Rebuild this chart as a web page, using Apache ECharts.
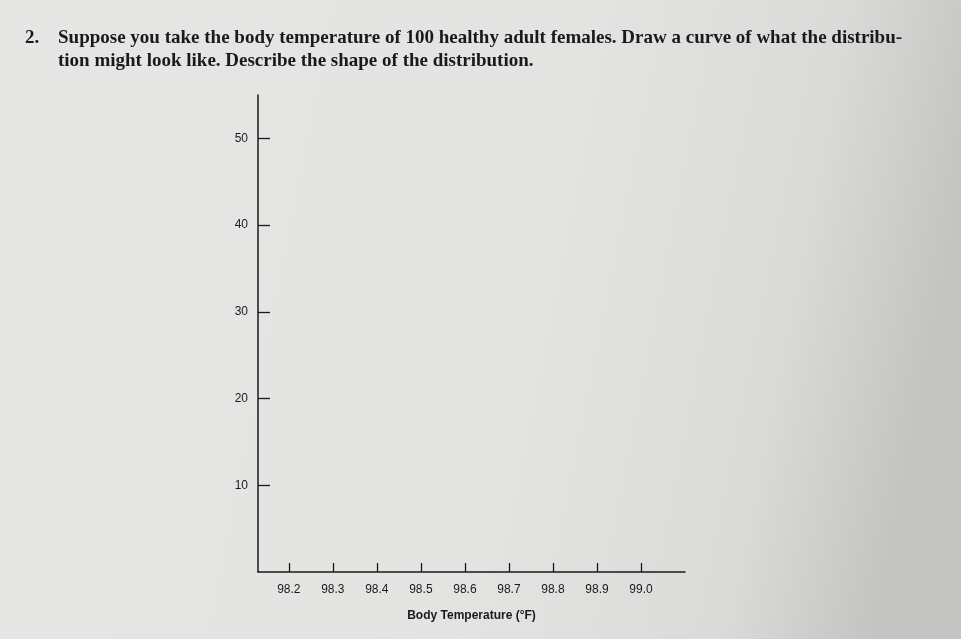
<!DOCTYPE html>
<html>
<head>
<meta charset="utf-8">
<script src="https://cdn.jsdelivr.net/npm/echarts@6/dist/echarts.min.js"></script>
<style>html,body{margin:0;padding:0;background:#e4e4e2}#chart{width:961px;height:639px}</style>
</head>
<body>
<div id="chart"></div>
<script>
// tick labels
var xTicks = [98.2, 98.3, 98.4, 98.5, 98.6, 98.7, 98.8, 98.9, 99.0];
var yTicks = [10, 20, 30, 40, 50];
var questionLines = [
    'Suppose you take the body temperature of 100 healthy adult females. Draw a curve of what the distribu-',
    'tion might look like. Describe the shape of the distribution.'
];

var myChart = echarts.init(document.getElementById('chart'));

var titleFont = 'bold 19px "Liberation Serif"';

var option = {
    backgroundColor: {
        type: 'linear', x: 0, y: 0, x2: 1, y2: 0.3,
        colorStops: [
            {offset: 0, color: '#e6e6e4'},
            {offset: 0.6, color: '#e3e3e1'},
            {offset: 0.85, color: '#dadad8'},
            {offset: 1, color: '#c4c4c2'}
        ]
    },
    grid: {left: 258, top: 95, width: 427, height: 477},
    graphic: [
        {type: 'text', left: 25, top: 29, style: {text: '2.', font: titleFont, fill: '#1a1a1a'}},
        {type: 'text', left: 58, top: 29, style: {text: questionLines[0], font: titleFont, fill: '#1a1a1a'}},
        {type: 'text', left: 58, top: 52, style: {text: questionLines[1], font: titleFont, fill: '#1a1a1a'}}
    ],
    xAxis: {
        type: 'value',
        min: 98.13,
        max: 99.1,
        name: 'Body Temperature (°F)',
        nameLocation: 'middle',
        nameGap: 38,
        nameTextStyle: {fontFamily: 'Liberation Sans', fontSize: 12, fontWeight: 'bold', color: '#1a1a1a'},
        splitLine: {show: false},
        axisLine: {lineStyle: {color: '#1a1a1a', width: 1.5}},
        axisTick: {inside: true, length: 9, customValues: xTicks, lineStyle: {color: '#1a1a1a', width: 1.3}},
        axisLabel: {
            customValues: xTicks, margin: 12, fontFamily: 'Liberation Sans', fontSize: 12, color: '#1a1a1a',
            formatter: function (v) { return v.toFixed(1); }
        }
    },
    yAxis: {
        type: 'value',
        min: 0,
        max: 55,
        splitLine: {show: false},
        axisLine: {show: true, lineStyle: {color: '#1a1a1a', width: 1.5}},
        axisTick: {show: true, inside: true, length: 12, customValues: yTicks, lineStyle: {color: '#1a1a1a', width: 1.3}},
        axisLabel: {customValues: yTicks, margin: 10, fontFamily: 'Liberation Sans', fontSize: 12, color: '#1a1a1a'}
    },
    series: []
};

myChart.setOption(option);
</script>
</body>
</html>
